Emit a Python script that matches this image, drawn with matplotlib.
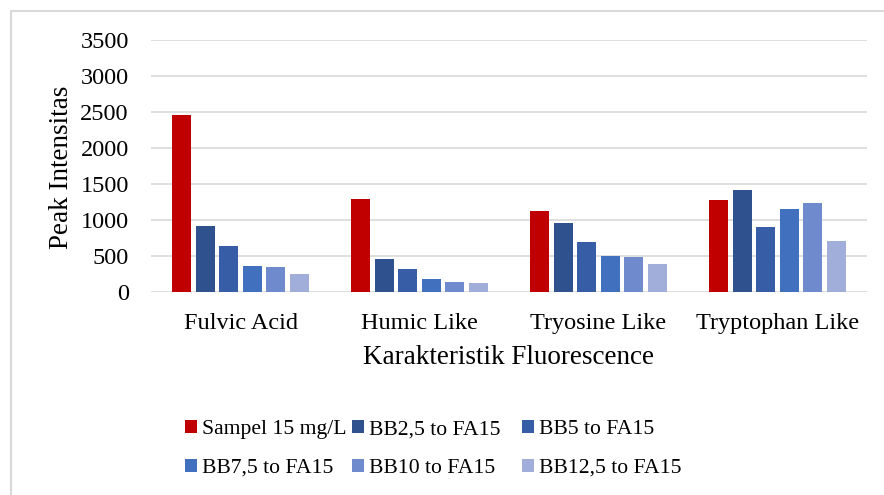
import matplotlib
matplotlib.use("Agg")
import matplotlib.pyplot as plt
import numpy as np
from matplotlib.patches import Rectangle

categories = ["Fulvic Acid", "Humic Like", "Tryosine Like", "Tryptophan Like"]
series = ["Sampel 15 mg/L", "BB2,5 to FA15", "BB5 to FA15",
          "BB7,5 to FA15", "BB10 to FA15", "BB12,5 to FA15"]
sampel = [2460, 1297, 1130, 1283]
bb2_5 = [912, 464, 954, 1412]
bb5 = [644, 325, 700, 903]
bb7_5 = [366, 176, 500, 1148]
bb10 = [343, 135, 482, 1241]
bb12_5 = [250, 121, 394, 704]
values = [sampel, bb2_5, bb5, bb7_5, bb10, bb12_5]
colors = ["#C00000", "#2F528F", "#375DA6", "#4070BE", "#6F8ACD", "#A0AED9"]

plt.rcParams["font.family"] = ["Liberation Serif", "DejaVu Serif"]

W, H = 884, 495
fig = plt.figure(figsize=(W / 100, H / 100), dpi=100)
ax = fig.add_axes([151 / W, 1 - 292 / H, 716 / W, 252 / H])

# outer chart border (runs off the right and bottom edges)
fig.patches.append(Rectangle((11 / W, -0.05), 1.0, 1 - 11 / H + 0.05,
                             transform=fig.transFigure, fill=False,
                             edgecolor="#D9D9D9", linewidth=1.5))

x = np.arange(len(categories))
pitch = 0.132
width = 0.106
bars = []
for i, (name, vals, c) in enumerate(zip(series, values, colors)):
    bars.append(ax.bar(x + (i - 2.5) * pitch, vals, width, color=c,
                       label=name, zorder=3))

ax.set_xlim(-0.5, len(categories) - 0.5)
ax.set_ylim(0, 3500)
ax.set_yticks(np.arange(0, 3501, 500))
ax.set_xticks(x)
ax.set_xticklabels(categories)
ax.tick_params(axis="both", length=0, labelsize=17.5)
ax.tick_params(axis="y", pad=16)
ax.tick_params(axis="x", pad=15)
ax.grid(axis="y", color="#D9D9D9", linewidth=1.2, zorder=0)
for s in ax.spines.values():
    s.set_visible(False)

fig.text(62 / W, 1 - 167 / H, "Peak Intensitas", fontsize=19.5,
         rotation=90, ha="center", va="center")
fig.text(509 / W, 1 - 357 / H, "Karakteristik Fluorescence", fontsize=19.5,
         ha="center", va="center")

# legend laid out row by row, three columns at fixed positions
col_x = [185, 352, 522]
for col in range(3):
    idx = [col, col + 3]
    leg = fig.legend([bars[k] for k in idx], [series[k] for k in idx],
                     loc="upper left",
                     bbox_to_anchor=(col_x[col] / W, 1 - 420 / H),
                     frameon=False, fontsize=15.6, handlelength=0.55,
                     handleheight=0.55, handletextpad=0.25, labelspacing=0.9,
                     borderpad=0, borderaxespad=0)

fig.savefig("out.png", dpi=100)
